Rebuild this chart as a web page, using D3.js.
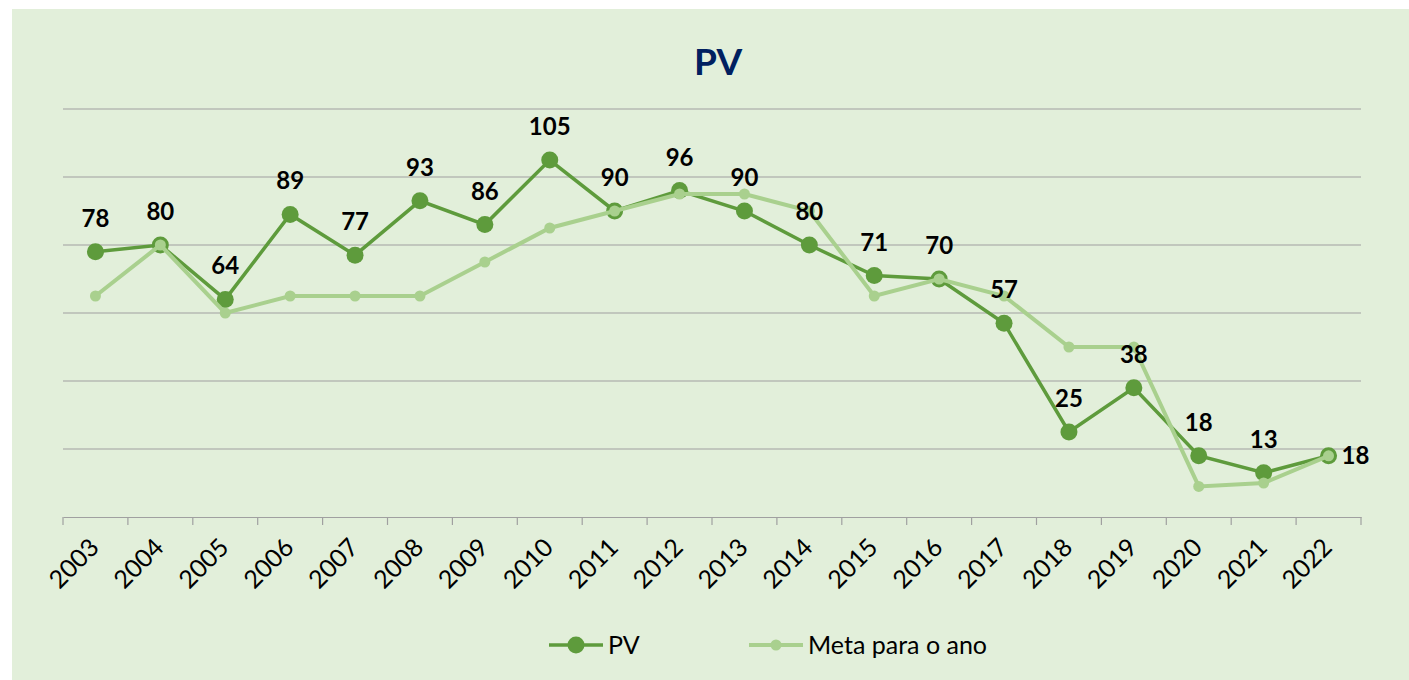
<!DOCTYPE html>
<html>
<head>
<meta charset="utf-8">
<script src="https://cdn.jsdelivr.net/npm/d3@7"></script>
<style>
  body { margin: 0; background: #fff; }
  svg { display: block; font-family: Lato, "Noto Sans", sans-serif; }
</style>
</head>
<body>
<svg width="1409" height="680"></svg>
<script>
// data
var years = ["2003","2004","2005","2006","2007","2008","2009","2010","2011","2012",
             "2013","2014","2015","2016","2017","2018","2019","2020","2021","2022"];
var pv   = [78, 80, 64, 89, 77, 93, 86, 105, 90, 96, 90, 80, 71, 70, 57, 25, 38, 18, 13, 18];
var meta = [65, 80, 60, 65, 65, 65, 75, 85, 90, 95, 95, 90, 65, 70, 65, 50, 50, 9, 10, 18];
var yTicks = [0, 20, 40, 60, 80, 100, 120];

var svg = d3.select("svg");

svg.append("rect")
  .attr("x", 12).attr("y", 9)
  .attr("width", 1409 - 12).attr("height", 680 - 9)
  .attr("fill", "#e2efda");

var x = d3.scaleBand().domain(years).range([63, 1361]);
var y = d3.scaleLinear().domain([0, 120]).range([517, 109]);

// title
svg.append("text")
  .attr("x", 718).attr("y", 75)
  .attr("text-anchor", "middle")
  .attr("font-size", 37).attr("font-weight", "bold")
  .attr("fill", "#002060")
  .text("PV");

// gridlines
svg.selectAll(".grid")
  .data(yTicks.slice(1))
  .enter().append("line")
  .attr("x1", 63).attr("x2", 1361)
  .attr("y1", function(d){ return y(d); })
  .attr("y2", function(d){ return y(d); })
  .attr("stroke", "#a0a0a0").attr("stroke-width", 1.2);

// x axis
var xAxis = svg.append("g")
  .attr("transform", "translate(0,517)")
  .call(d3.axisBottom(x).tickSize(0).tickFormat(""));
xAxis.select(".domain").attr("stroke", "#a0a0a0").attr("stroke-width", 1.2);

var edges = years.map(function(d){ return x(d); }).concat([x.range()[1]]);
svg.selectAll(".tk")
  .data(edges)
  .enter().append("line")
  .attr("x1", function(d){ return d; }).attr("x2", function(d){ return d; })
  .attr("y1", 517).attr("y2", 525)
  .attr("stroke", "#a0a0a0").attr("stroke-width", 1.2);

svg.selectAll(".xl")
  .data(years)
  .enter().append("text")
  .attr("transform", function(d){
    return "translate(" + (x(d) + x.bandwidth() / 2 + 5) + ",549) rotate(-45)";
  })
  .attr("text-anchor", "end")
  .attr("font-size", 25)
  .attr("fill", "#000")
  .text(function(d){ return d; });

var cx = function(d, i){ return x(years[i]) + x.bandwidth() / 2; };

var line = d3.line()
  .x(function(d, i){ return cx(d, i); })
  .y(function(d){ return y(d); });

// PV
svg.append("path")
  .datum(pv)
  .attr("d", line)
  .attr("fill", "none")
  .attr("stroke", "#5e9b3c").attr("stroke-width", 3.5);

svg.selectAll(".pvdot")
  .data(pv)
  .enter().append("circle")
  .attr("cx", cx)
  .attr("cy", function(d){ return y(d); })
  .attr("r", 8.5)
  .attr("fill", "#5e9b3c");

// Meta
svg.append("path")
  .datum(meta)
  .attr("d", line)
  .attr("fill", "none")
  .attr("stroke", "#a9d08e").attr("stroke-width", 4);

svg.selectAll(".mdot")
  .data(meta)
  .enter().append("circle")
  .attr("cx", cx)
  .attr("cy", function(d){ return y(d); })
  .attr("r", 5.5)
  .attr("fill", "#a9d08e");

// data labels
var last = pv.length - 1;
svg.selectAll(".lbl")
  .data(pv)
  .enter().append("text")
  .attr("x", function(d, i){ return i === last ? cx(d, i) + 13 : cx(d, i); })
  .attr("y", function(d, i){ return i === last ? y(d) + 8 : y(d) - 25; })
  .attr("text-anchor", function(d, i){ return i === last ? "start" : "middle"; })
  .attr("font-size", 24).attr("font-weight", "bold")
  .attr("fill", "#000")
  .text(function(d){ return d; });

// legend
var legend = [
  {name: "PV", color: "#5e9b3c", r: 8.5, w: 3.5, x: 549},
  {name: "Meta para o ano", color: "#a9d08e", r: 5.5, w: 4, x: 749}
];
var lg = svg.selectAll(".lg").data(legend).enter().append("g")
  .attr("transform", function(d){ return "translate(" + d.x + ",645)"; });
lg.append("line")
  .attr("x1", 0).attr("x2", 54)
  .attr("stroke", function(d){ return d.color; })
  .attr("stroke-width", function(d){ return d.w; });
lg.append("circle")
  .attr("cx", 27).attr("r", function(d){ return d.r; })
  .attr("fill", function(d){ return d.color; });
lg.append("text")
  .attr("x", 59).attr("y", 9)
  .attr("font-size", 25)
  .attr("fill", "#000")
  .text(function(d){ return d.name; });
</script>
</body>
</html>
